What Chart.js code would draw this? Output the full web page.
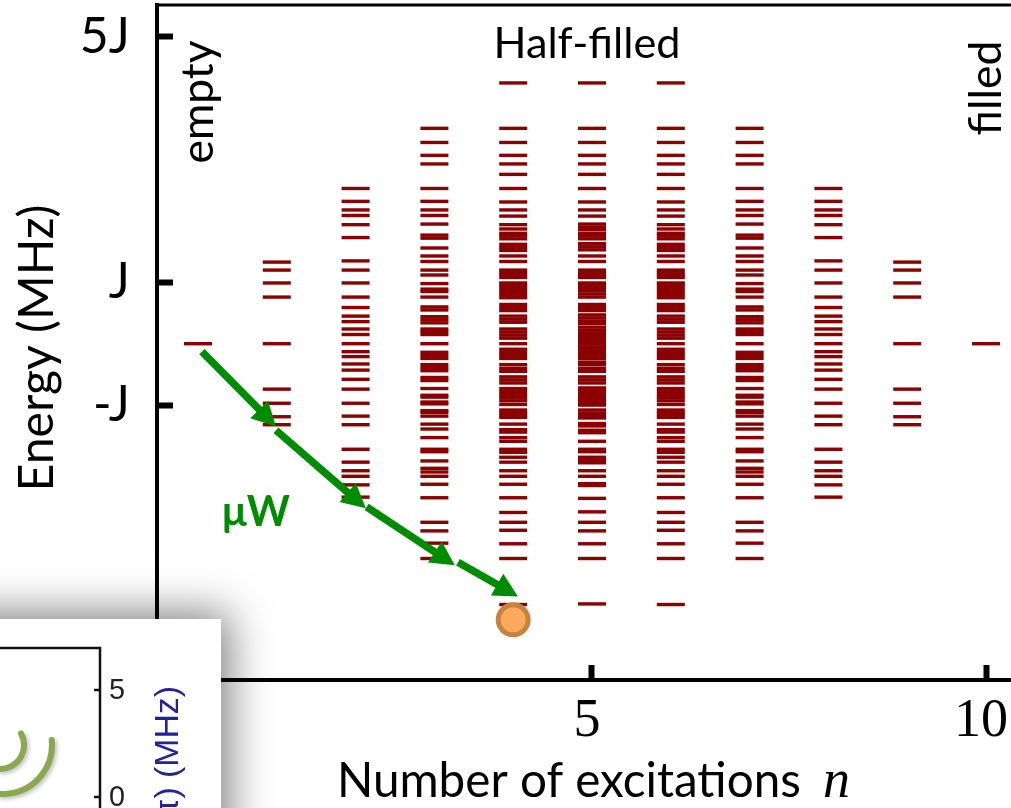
<!DOCTYPE html>
<html>
<head>
<meta charset="utf-8">
<title>Energy levels vs number of excitations</title>
<script src="https://cdn.jsdelivr.net/npm/chart.js@4.4.1/dist/chart.umd.min.js"></script>
<style>
  html, body { margin: 0; padding: 0; background: #fff; overflow: hidden; }
  canvas { display: block; }
</style>
</head>
<body>
<canvas id="spectrum" width="1011" height="808"></canvas>
<script>
// Number of excitations n on the chain (columns of the spectrum)
const excitations = [0, 1, 2, 3, 4, 5, 6, 7, 8, 9, 10];

// Many-body energies of each column, in units of J
const levelsN0 = [0];
const levelsN1 = [1.33, 1.20, 0.99, 0.76, 0, -0.74, -0.97, -1.19, -1.32];
const levelsN2 = [2.53, 2.32, 2.18, 2.09, 1.94, 1.73, 1.35, 1.20, 0.99, 0.76, 0.59, 0.45, 0.36, 0.24, 0.15, 0,
                  -0.13, -0.21, -0.33, -0.43, -0.58, -0.74, -0.97, -1.18, -1.32, -1.72, -1.93, -2.07, -2.16, -2.30, -2.50];
const levelsN3 = [3.51, 3.28, 3.07, 2.93, 2.53, 2.32, 2.18, 2.09, 1.95, 1.77, 1.72, 1.56, 1.43, 1.34, 1.20, 1.12,
                  0.98, 0.89, 0.85, 0.76, 0.60, 0.55, 0.44, 0.39, 0.34, 0.24, 0.20, 0.15, 0,
                  -0.14, -0.19, -0.24, -0.34, -0.39, -0.44, -0.55, -0.60, -0.73, -0.84, -0.87, -0.95, -0.98,
                  -1.09, -1.12, -1.18, -1.31, -1.39, -1.53, -1.72, -1.76, -1.91, -2.03, -2.09, -2.16, -2.29,
                  -2.51, -2.91, -3.05, -3.25, -3.50];
const levelsN4 = [4.25, 3.51, 3.28, 3.07, 2.93, 2.76, 2.53, 2.31, 2.18, 2.08, 1.94, 1.87, 1.80, 1.76, 1.71,
                  1.62, 1.57, 1.52, 1.43, 1.34, 1.20, 1.16, 1.12, 1.08, 0.99, 0.95, 0.90, 0.85, 0.80, 0.75,
                  0.64, 0.59, 0.54, 0.45, 0.40, 0.35, 0.24, 0.19, 0.14, 0.09, 0,
                  -0.09, -0.14, -0.19, -0.24, -0.34, -0.40, -0.45, -0.54, -0.59, -0.64, -0.73, -0.78, -0.83,
                  -0.88, -0.93, -0.99, -1.08, -1.12, -1.16, -1.20, -1.31, -1.40, -1.44, -1.53, -1.59, -1.72,
                  -1.77, -1.85, -1.93, -2.07, -2.16, -2.29, -2.51, -2.75, -2.91, -3.04, -3.26, -3.50, -4.25];
const levelsN5 = [4.25, 3.51, 3.28, 3.07, 2.93, 2.76, 2.53, 2.31, 2.18, 2.08, 1.95, 1.90, 1.86, 1.80, 1.76, 1.71,
                  1.63, 1.58, 1.53, 1.43, 1.34, 1.20, 1.16, 1.12, 1.08, 0.99, 0.95, 0.90, 0.86, 0.81, 0.76,
                  0.64, 0.59, 0.54, 0.47, 0.42, 0.37, 0.33, 0.27, 0.22, 0.17, 0.12, 0.07, 0.03, 0,
                  -0.05, -0.09, -0.14, -0.19, -0.24, -0.30, -0.34, -0.40, -0.45, -0.54, -0.59, -0.64, -0.72,
                  -0.76, -0.81, -0.86, -0.91, -0.96, -1.00, -1.08, -1.13, -1.17, -1.21, -1.30, -1.34, -1.41,
                  -1.45, -1.59, -1.72, -1.76, -1.85, -1.90, -1.94, -2.07, -2.16, -2.28, -2.31, -2.52, -2.74,
                  -2.91, -3.05, -3.26, -3.50, -4.24];
// Columns n and 10-n carry the same set of energies
const columnLevels = [levelsN0, levelsN1, levelsN2, levelsN3, levelsN4, levelsN5,
                      levelsN4, levelsN3, levelsN2, levelsN1, levelsN0];

// Axis ticks
const xTicks = [5, 10];
const yTicks = [5, 1, -1];
const yTickLabels = ['5J', 'J', '-J'];

// Target state reached by the microwave ladder: [n, E/J]
const targetState = [4, -4.5];
// Microwave steps as [n start, E start, n tip, E tip]
const microwaveSteps = [
  [0.05, -0.13, 0.99, -1.35],
  [0.99, -1.41, 2.13, -2.68],
  [2.14, -2.66, 3.26, -3.61],
  [3.30, -3.56, 4.06, -4.12]
];

// Inset axis ticks (MHz)
const insetTicks = [5, 0];

const LEVEL_RED = '#8b0000';
const MW_GREEN = '#008c00';

const levelPoints = [];
excitations.forEach((n, i) => {
  columnLevels[i].forEach(e => levelPoints.push({ x: n, y: e }));
});

function fittedText(ctx, text, o) {
  const family = o.family || 'Lato';
  const weight = o.weight || 'normal';
  ctx.save();
  ctx.font = `${weight} 100px ${family}`;
  const size = 100 * o.width / ctx.measureText(text).width;
  ctx.font = `${weight} ${size}px ${family}`;
  ctx.fillStyle = o.color || '#000';
  ctx.textAlign = o.align || 'center';
  ctx.textBaseline = o.baseline || 'alphabetic';
  ctx.translate(o.x, o.y);
  ctx.rotate(o.rotate || 0);
  ctx.fillText(text, 0, 0);
  ctx.restore();
}

function drawInset(ctx) {
  // floating panel with a soft drop shadow
  ctx.save();
  ctx.shadowColor = 'rgba(0,0,0,0.5)';
  ctx.shadowBlur = 40;
  ctx.shadowOffsetX = 8;
  ctx.shadowOffsetY = -6;
  ctx.fillStyle = '#fff';
  ctx.fillRect(-80, 619, 301, 260);
  ctx.restore();

  const yOf = v => 797 - v * 21.4;

  // radiating arcs
  ctx.save();
  ctx.strokeStyle = '#8aa84e';
  ctx.lineWidth = 6;
  ctx.lineCap = 'round';
  ctx.shadowColor = 'rgba(0,0,0,0.25)';
  ctx.shadowBlur = 4;
  ctx.shadowOffsetX = 2;
  ctx.shadowOffsetY = 2;
  ctx.beginPath(); ctx.arc(0, 745, 24, -0.5, 1.6); ctx.stroke();
  ctx.beginPath(); ctx.arc(3, 745, 49, -0.1, 1.65); ctx.stroke();
  ctx.restore();

  // frame and right axis
  ctx.save();
  ctx.strokeStyle = '#111';
  ctx.lineWidth = 2.5;
  ctx.beginPath();
  ctx.moveTo(-5, 648); ctx.lineTo(100, 648); ctx.lineTo(100, 812);
  ctx.stroke();
  insetTicks.forEach(v => {
    const py = yOf(v);
    ctx.beginPath(); ctx.moveTo(94, py); ctx.lineTo(100, py); ctx.stroke();
    fittedText(ctx, String(v), { x: 109, y: py + 1, width: 16, family: '"Liberation Sans"',
                                 align: 'left', baseline: 'middle', color: '#222' });
  });
  ctx.restore();

  // axis title, reading upwards
  ctx.save();
  ctx.font = '100px "Liberation Sans"';
  const size = 100 * 92 / ctx.measureText('(MHz)').width;
  ctx.font = `${size}px "Liberation Sans"`;
  ctx.fillStyle = '#22229a';
  ctx.textAlign = 'right';
  ctx.textBaseline = 'middle';
  ctx.translate(169, 686);
  ctx.rotate(-Math.PI / 2);
  ctx.fillText('J/(2\u03c0) (MHz)', 0, 0);
  ctx.restore();
}

const decorations = {
  id: 'decorations',
  afterDatasetsDraw(chart) {
    const { ctx, scales: { x, y } } = chart;
    ctx.save();
    ctx.fillStyle = MW_GREEN;
    ctx.strokeStyle = MW_GREEN;
    microwaveSteps.forEach(([n0, e0, n1, e1]) => {
      const x0 = x.getPixelForValue(n0), y0 = y.getPixelForValue(e0);
      const x1 = x.getPixelForValue(n1), y1 = y.getPixelForValue(e1);
      const len = Math.hypot(x1 - x0, y1 - y0);
      const ux = (x1 - x0) / len, uy = (y1 - y0) / len;
      const head = 24, half = 12.5;
      const bx = x1 - ux * head, by = y1 - uy * head;
      ctx.lineWidth = 7.5;
      ctx.lineCap = 'butt';
      ctx.beginPath(); ctx.moveTo(x0, y0); ctx.lineTo(bx + ux, by + uy); ctx.stroke();
      ctx.beginPath();
      ctx.moveTo(x1, y1);
      ctx.lineTo(bx - uy * half, by + ux * half);
      ctx.lineTo(bx + uy * half, by - ux * half);
      ctx.closePath();
      ctx.fill();
    });
    ctx.restore();
  },
  afterDraw(chart) {
    const { ctx, chartArea, scales: { x, y } } = chart;
    ctx.save();
    ctx.strokeStyle = '#000';
    ctx.lineWidth = 3;
    ctx.beginPath();
    ctx.moveTo(chartArea.left - 2, chartArea.top);
    ctx.lineTo(chartArea.right + 2, chartArea.top);
    ctx.stroke();

    // tick labels, placed from the scales
    ctx.fillStyle = '#000';
    ctx.textBaseline = 'middle';
    ctx.font = '50px Lato';
    ctx.textAlign = 'right';
    y.ticks.forEach(t => {
      ctx.fillText(yTickLabels[yTicks.indexOf(t.value)], chartArea.left - 27, y.getPixelForValue(t.value));
    });
    ctx.font = '54px "Liberation Serif"';
    ctx.textAlign = 'center';
    x.ticks.forEach(t => {
      ctx.fillText(String(t.value), x.getPixelForValue(t.value) - 5, chartArea.bottom + 42);
    });
    ctx.restore();

    fittedText(ctx, 'Half-filled', { x: 587, y: 58, width: 187 });
    fittedText(ctx, 'empty', { x: 213, y: 102, width: 123, rotate: -Math.PI / 2 });
    fittedText(ctx, 'filled', { x: 1001, y: 88, width: 95, rotate: -Math.PI / 2 });
    fittedText(ctx, '\u03bcW', { x: 222, y: 526, width: 68, weight: 'bold', color: MW_GREEN, align: 'left' });
    fittedText(ctx, 'Energy (MHz)', { x: 53, y: 348, width: 287, rotate: -Math.PI / 2 });
    fittedText(ctx, 'Number of excitations', { x: 337, y: 797, width: 464, align: 'left' });
    ctx.save();
    ctx.font = 'italic 54px "Liberation Serif"';
    ctx.fillStyle = '#000';
    ctx.textAlign = 'left';
    ctx.textBaseline = 'alphabetic';
    ctx.fillText('n', 823, 797);
    ctx.restore();

    drawInset(ctx);
  }
};

function build() {
  const ctx = document.getElementById('spectrum').getContext('2d');
  new Chart(ctx, {
    type: 'scatter',
    data: {
      datasets: [
        {
          label: 'levels',
          data: levelPoints,
          order: 1,
          pointStyle: 'line',
          pointRadius: 14,
          pointHoverRadius: 14,
          pointBorderWidth: 3.4,
          borderWidth: 3.4,
          borderColor: LEVEL_RED,
          backgroundColor: LEVEL_RED
        },
        {
          label: 'target',
          data: [{ x: targetState[0], y: targetState[1] }],
          order: 0,
          pointStyle: 'circle',
          pointRadius: 15,
          pointHoverRadius: 15,
          pointBorderWidth: 5,
          borderWidth: 5,
          borderColor: '#c8813f',
          backgroundColor: '#fba95b'
        }
      ]
    },
    options: {
      responsive: false,
      animation: false,
      devicePixelRatio: 1,
      events: [],
      layout: { autoPadding: false, padding: { top: 5, left: 0, right: 0, bottom: 0 } },
      plugins: { legend: { display: false }, tooltip: { enabled: false } },
      scales: {
        x: {
          type: 'linear',
          position: 'bottom',
          min: -0.52,
          max: 10.317,
          afterBuildTicks: s => { s.ticks = xTicks.map(v => ({ value: v })); },
          afterFit: s => { s.height = 128; },
          border: { display: true, color: '#000', width: 4 },
          grid: { display: true, drawOnChartArea: false, drawTicks: true, tickLength: -15,
                  tickWidth: 6, tickColor: '#000', lineWidth: 1 },
          ticks: { display: false, autoSkip: false }
        },
        y: {
          type: 'linear',
          position: 'left',
          min: -5.48,
          max: 5.52,
          afterBuildTicks: s => { s.ticks = yTicks.map(v => ({ value: v })); },
          afterFit: s => { s.width = 157; },
          border: { display: true, color: '#000', width: 4 },
          grid: { display: true, drawOnChartArea: false, drawTicks: true, tickLength: -16,
                  tickWidth: 6, tickColor: '#000', lineWidth: 1 },
          ticks: { display: false, autoSkip: false }
        }
      }
    },
    plugins: [decorations]
  });
}

const fontLoads = ['50px Lato', 'bold 40px Lato', '54px "Liberation Serif"',
                   'italic 54px "Liberation Serif"', '24px "Liberation Sans"']
  .map(f => document.fonts.load(f).catch(() => null));
Promise.all(fontLoads).then(build, build);
</script>
</body>
</html>
